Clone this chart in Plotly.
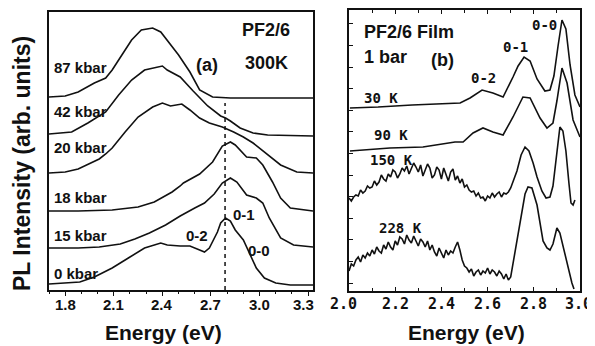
import numpy as np
import plotly.graph_objects as go

# ---------------- Panel (a): PF2/6, 300 K, pressure series ----------------
labels_a = ["87 kbar", "42 kbar", "20 kbar", "18 kbar", "15 kbar", "0 kbar"]
offsets_a = [192, 154, 117, 79, 42, 5]
ticks_a = [1.8, 2.1, 2.4, 2.7, 3.0, 3.3]

e_87 = [1.70, 1.80, 1.88, 1.98, 2.05, 2.09, 2.15, 2.21, 2.27, 2.34, 2.39, 2.43, 2.50, 2.57, 2.63, 2.71, 2.82, 3.33]
i_87 = [1, 2, 6, 15, 20, 28, 43, 58, 68, 70, 66, 58, 43, 26, 8, 1, 0, 0]

e_42 = [1.70, 1.84, 1.94, 2.05, 2.13, 2.21, 2.29, 2.37, 2.40, 2.43, 2.51, 2.59, 2.68, 2.76, 2.79, 2.82, 2.88, 2.96, 3.05, 3.33]
i_42 = [2, 4, 13, 24, 41, 56, 66, 69, 70, 66, 59, 45, 30, 20, 18, 15, 8, 3, 1, 0]

e_20 = [1.70, 1.80, 1.88, 1.97, 1.99, 2.01, 2.05, 2.09, 2.17, 2.25, 2.34, 2.40, 2.45, 2.52, 2.57, 2.63, 2.69, 2.77, 2.84, 2.90, 2.96, 3.05, 3.13, 3.23, 3.33]
i_20 = [0, 1, 4, 11, 13, 14, 19, 25, 41, 56, 66, 70, 67, 69, 63, 55, 50, 46, 41, 36, 30, 18, 8, 1, 0]

e_18 = [1.70, 1.88, 2.09, 2.25, 2.35, 2.43, 2.46, 2.51, 2.53, 2.63, 2.71, 2.77, 2.82, 2.85, 2.92, 2.98, 3.02, 3.08, 3.13, 3.19, 3.33]
i_18 = [0, 0, 1, 4, 9, 16, 19, 25, 28, 37, 49, 65, 69, 66, 54, 53, 46, 29, 13, 3, 0]

e_15 = [1.70, 1.88, 2.01, 2.14, 2.23, 2.32, 2.42, 2.51, 2.60, 2.66, 2.72, 2.77, 2.82, 2.86, 2.92, 2.98, 3.02, 3.06, 3.13, 3.21, 3.33]
i_15 = [0, 0, 1, 4, 9, 15, 23, 32, 40, 45, 54, 65, 70, 66, 53, 50, 45, 30, 10, 3, 1]

e_0 = [1.70, 1.89, 1.98, 2.09, 2.19, 2.29, 2.39, 2.43, 2.51, 2.57, 2.63, 2.66, 2.69, 2.74, 2.76, 2.79, 2.82, 2.85, 2.90, 2.94, 2.98, 3.03, 3.10, 3.19, 3.33]
i_0 = [1, 3, 8, 17, 27, 37, 42, 40, 39, 39, 35, 33, 37, 53, 62, 67, 64, 55, 45, 31, 17, 7, 2, 0, 0]

spectra_a = [(e_87, i_87), (e_42, i_42), (e_20, i_20), (e_18, i_18), (e_15, i_15), (e_0, i_0)]
marker_energy_a = 2.787

# ---------------- Panel (b): PF2/6 film, 1 bar, temperature series ----------------
labels_b = ["30 K", "90 K", "150 K", "228 K"]
offsets_b = [183, 140, 86, 0]
ticks_b = [2.0, 2.2, 2.4, 2.6, 2.8, 3.0]

e_30 = [2.004, 2.126, 2.273, 2.372, 2.481, 2.524, 2.576, 2.623, 2.667, 2.710, 2.732, 2.758, 2.784, 2.814, 2.848, 2.870, 2.887, 2.905, 2.922, 2.939, 2.957, 2.978, 3.000]
i_30 = [0, 1, 3, 4, 5, 10, 18, 15, 11, 31, 42, 51, 47, 29, 17, 18, 32, 62, 88, 79, 43, 13, 1]

e_90 = [2.004, 2.177, 2.320, 2.459, 2.494, 2.537, 2.580, 2.623, 2.667, 2.710, 2.753, 2.784, 2.827, 2.857, 2.883, 2.900, 2.922, 2.944, 2.970, 3.000]
i_90 = [0, 3, 4, 9, 9, 18, 23, 19, 16, 34, 54, 53, 33, 23, 28, 50, 83, 68, 31, 14]

e_150 = [2.00, 2.01, 2.02, 2.03, 2.04, 2.05, 2.06, 2.07, 2.08, 2.09, 2.10, 2.11, 2.12, 2.13, 2.14,
         2.15, 2.16, 2.17, 2.18, 2.19, 2.20, 2.21, 2.22, 2.23, 2.24, 2.25, 2.26, 2.27, 2.28, 2.29,
         2.30, 2.31, 2.32, 2.33, 2.34, 2.35, 2.36, 2.37, 2.38, 2.39, 2.40, 2.41, 2.42, 2.43, 2.44,
         2.45, 2.46, 2.47, 2.48, 2.49, 2.50, 2.51, 2.52, 2.53, 2.54, 2.55, 2.56, 2.57, 2.58, 2.59,
         2.60, 2.61, 2.62, 2.63, 2.64, 2.65, 2.66, 2.67, 2.68, 2.69, 2.70,
         2.727, 2.745, 2.762, 2.779, 2.797, 2.814, 2.835, 2.853, 2.870, 2.883, 2.896, 2.905, 2.913,
         2.926, 2.939, 2.952, 2.961, 2.970, 2.978]
i_150 = [7, 4, 8, 10, 9, 15, 12, 14, 19, 17, 18, 24, 20, 23, 30,
         26, 24, 31, 28, 35, 33, 27, 31, 37, 34, 39, 31, 36, 42, 38,
         33, 40, 29, 35, 41, 37, 27, 30, 38, 35, 26, 37, 31, 24, 33,
         36, 25, 29, 22, 26, 18, 20, 15, 13, 14, 9, 12, 7, 8, 4,
         9, 7, 12, 8, 11, 13, 8, 12, 11, 13, 17,
         34, 50, 58, 54, 42, 28, 14, 7, 8, 19, 44, 64, 78,
         74, 54, 22, 2, 0, 5]

e_228 = [2.00, 2.01, 2.02, 2.03, 2.04, 2.05, 2.06, 2.07, 2.08, 2.09, 2.10, 2.11, 2.12, 2.13, 2.14,
         2.15, 2.16, 2.17, 2.18, 2.19, 2.20, 2.21, 2.22, 2.23, 2.24, 2.25, 2.26, 2.27, 2.28, 2.29,
         2.30, 2.31, 2.32, 2.33, 2.34, 2.35, 2.36, 2.37, 2.38, 2.39, 2.40, 2.41, 2.42, 2.43, 2.44,
         2.45, 2.46, 2.47, 2.48, 2.49, 2.50, 2.51, 2.52, 2.53, 2.54, 2.55, 2.56, 2.57, 2.58, 2.59,
         2.60, 2.61, 2.62, 2.63, 2.64, 2.65, 2.66, 2.67, 2.68, 2.69, 2.70,
         2.710, 2.732, 2.749, 2.762, 2.775, 2.792, 2.814, 2.827, 2.840, 2.857, 2.870, 2.883, 2.900,
         2.913, 2.931, 2.948, 2.965, 2.974]
i_228 = [20, 27, 25, 31, 34, 29, 36, 33, 38, 35, 41, 37, 44, 40, 38,
         46, 42, 49, 44, 41, 50, 46, 54, 52, 47, 56, 51, 48, 55, 50,
         45, 52, 49, 44, 50, 41, 46, 39, 35, 43, 37, 33, 41, 36, 40,
         38, 44, 49, 41, 31, 25, 23, 19, 22, 15, 19, 21, 16, 20, 18,
         23, 17, 21, 19, 15, 20, 17, 12, 17, 11, 14,
         28, 56, 80, 97, 104, 103, 86, 70, 50, 43, 41, 47, 63,
         58, 40, 22, 8, 2]

spectra_b = [(e_30, i_30), (e_90, i_90), (e_150, i_150), (e_228, i_228)]

# ---------------- Figure ----------------
# the page places the figure 8px in from the top-left corner (default body margin)
OFF = 8
W, H = 595 - OFF, 346 - OFF


def fx(p):
    return (p - OFF) / W


def fy(p):
    return 1 - (p - OFF) / H


INK = "#111111"
LINE = dict(color=INK, width=1.6)
SANS = "Liberation Sans, Arial, sans-serif"
MONO = "DejaVu Sans Mono, monospace"

fig = go.Figure()
for (e, i), off in zip(spectra_a, offsets_a):
    fig.add_trace(go.Scatter(x=e, y=np.array(i) + off, mode="lines", line=LINE,
                             xaxis="x", yaxis="y", showlegend=False, hoverinfo="skip"))
for (e, i), off in zip(spectra_b, offsets_b):
    fig.add_trace(go.Scatter(x=e, y=np.array(i) + off, mode="lines", line=LINE,
                             xaxis="x2", yaxis="y2", showlegend=False, hoverinfo="skip"))

axis_common = dict(showline=True, linecolor=INK, linewidth=1.6, mirror=True,
                   showgrid=False, zeroline=False)

fig.update_layout(
    width=W, height=H, margin=dict(l=0, r=0, t=0, b=0),
    paper_bgcolor="white", plot_bgcolor="white",
    xaxis=dict(domain=[fx(49), fx(313)], range=[1.7, 3.33], tickvals=ticks_a,
               ticks="outside", ticklen=4, tickwidth=1.3, tickcolor=INK, showticklabels=False,
               minor=dict(dtick=0.1, tick0=1.8, ticks="outside", ticklen=2, tickcolor=INK),
               anchor="y", **axis_common),
    yaxis=dict(domain=[fy(290), fy(12)], range=[0, 278], showticklabels=False,
               ticks="", anchor="x", **axis_common),
    xaxis2=dict(domain=[fx(349), fx(580)], range=[2.0, 3.0], tickvals=ticks_b,
                ticks="inside", ticklen=4, tickwidth=1.3, tickcolor=INK, showticklabels=False,
                minor=dict(dtick=0.1, tick0=2.0, ticks="inside", ticklen=3, tickcolor=INK),
                anchor="y2", **{**axis_common, "mirror": "ticks"}),
    yaxis2=dict(domain=[fy(291), fy(10)], range=[0, 281], showticklabels=False,
                ticks="inside", tick0=8, dtick=21.6, ticklen=4, tickcolor=INK,
                anchor="x2", **axis_common),
)

# dashed marker line in panel (a)
fig.add_shape(type="line", xref="x", yref="y", x0=marker_energy_a, x1=marker_energy_a,
              y0=0, y1=187, line=dict(color=INK, width=1.5, dash="4px,4px"))


def ann(text, x, y, xref, yref, size, family=SANS, xanchor="center", **kw):
    fig.add_annotation(text=text, x=x, y=y, xref=xref, yref=yref, showarrow=False,
                       xanchor=xanchor, yanchor="middle",
                       font=dict(family=family, size=size, color=INK, weight="bold"), **kw)


# tick labels
for k, t in enumerate(ticks_a):
    ann(f"{t:.1f}", t, fy(304), "x", "paper", 15, xshift=-5 if k == len(ticks_a) - 1 else 0)
shift_b = {0: -6, len(ticks_b) - 1: -2}
for k, t in enumerate(ticks_b):
    ann(f"{t:.1f}", t, fy(304), "x2", "paper", 15, family=MONO, xshift=shift_b.get(k, 0))

# panel (a) labels
label_y_a = [222, 178, 142, 92, 54, 17]
for lab, yy in zip(labels_a, label_y_a):
    ann(lab, 1.72, yy, "x", "y", 15, xanchor="left")
ann("PF2/6", 3.04, 260, "x", "y", 18)
ann("300K", 3.04, 227, "x", "y", 18)
ann("(a)", 2.675, 225, "x", "y", 18)
ann("0-2", 2.614, 54, "x", "y", 15)
ann("0-1", 2.904, 75, "x", "y", 15)
ann("0-0", 2.996, 39, "x", "y", 15)

# panel (b) labels
ann("PF2/6 Film", 2.056, 259, "x2", "y2", 18, xanchor="left")
ann("1 bar", 2.056, 234, "x2", "y2", 18, xanchor="left")
ann("(b)", 2.403, 231, "x2", "y2", 18)
label_pos_b = [(2.056, 193), (2.10, 156), (2.082, 131), (2.121, 63)]
for lab, (xx, yy) in zip(labels_b, label_pos_b):
    ann(lab, xx, yy, "x2", "y2", 14, family=MONO, xanchor="left")
ann("0-0", 2.848, 266, "x2", "y2", 14, family=MONO)
ann("0-1", 2.719, 244, "x2", "y2", 14, family=MONO)
ann("0-2", 2.584, 213, "x2", "y2", 14, family=MONO)

# axis titles
ann("Energy (eV)", fx(163), fy(332), "paper", "paper", 21)
ann("Energy (eV)", fx(466), fy(332), "paper", "paper", 21)
ann("PL Intensity (arb. units)", fx(22), fy(164), "paper", "paper", 23, textangle=-90)

fig.write_html("out.html")
